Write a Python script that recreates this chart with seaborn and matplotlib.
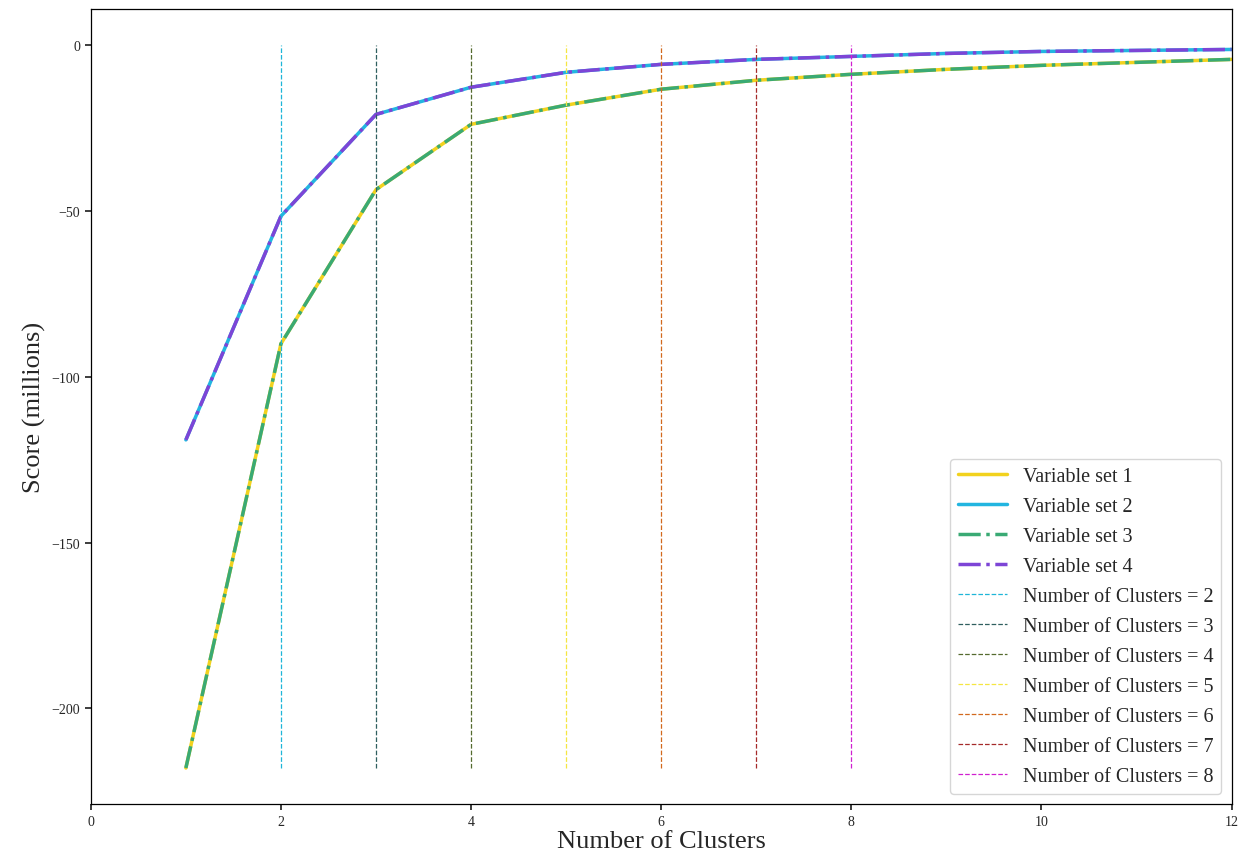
import matplotlib
matplotlib.use("Agg")
import matplotlib.pyplot as plt
import seaborn as sns
import pandas as pd

# Elbow curves (score in millions)
clusters = [1, 2, 3, 4, 5, 6, 7, 8, 9, 10, 11, 12]
score_set_1 = [-218.0, -90.0, -43.5, -23.8, -18.0, -13.2, -10.5, -8.7, -7.2, -6.0, -5.1, -4.2]
score_set_2 = [-119.0, -51.5, -20.8, -12.6, -8.1, -5.7, -4.2, -3.3, -2.4, -1.8, -1.5, -1.2]
score_set_3 = score_set_1
score_set_4 = score_set_2

set_labels = ["Variable set 1", "Variable set 2", "Variable set 3", "Variable set 4"]
set_colors = ["#f2d21e", "#22b5e0", "#3aaa74", "#7d45d6"]
set_styles = ["-", "-", "-.", "-."]

cut_points = [2, 3, 4, 5, 6, 7, 8]
cut_colors = ["#1fb6d8", "#2f5f5f", "#556b2f", "#f5e642", "#d2691e", "#a52a2a", "#d020d0"]

sns.set_theme(style="white")
plt.rcParams["font.family"] = ["Liberation Serif", "DejaVu Serif"]

fig, ax = plt.subplots(figsize=(12.44, 8.62), dpi=100)

series = [score_set_1, score_set_2, score_set_3, score_set_4]
for values, label, color, style in zip(series, set_labels, set_colors, set_styles):
    df = pd.DataFrame({"k": clusters, "score": values})
    sns.lineplot(data=df, x="k", y="score", ax=ax, color=color, linestyle=style,
                 linewidth=2.5, label=label)

low = min(min(s) for s in series)
for k, color in zip(cut_points, cut_colors):
    ax.vlines(k, low, 0, colors=color, linestyles="dashed", linewidth=0.9,
              label=f"Number of Clusters = {k}")

ax.set_xlim(0, 12)
ax.set_xticks([0, 2, 4, 6, 8, 10, 12])
ax.set_yticks([0, -50, -100, -150, -200])
ax.tick_params(axis="both", labelsize=10, length=4, direction="out", left=True, bottom=True)
ax.set_xlabel("Number of Clusters", fontsize=19, labelpad=2)
ax.set_ylabel("Score (millions)", fontsize=19)

for spine in ax.spines.values():
    spine.set_color("black")
    spine.set_linewidth(0.9)

ax.legend(loc="lower right", fontsize=14.5, frameon=True, handlelength=2.4,
          labelspacing=0.54, borderaxespad=0.5)

fig.subplots_adjust(left=0.073, right=0.99, top=0.988, bottom=0.066)
fig.savefig("out.png", dpi=100)
